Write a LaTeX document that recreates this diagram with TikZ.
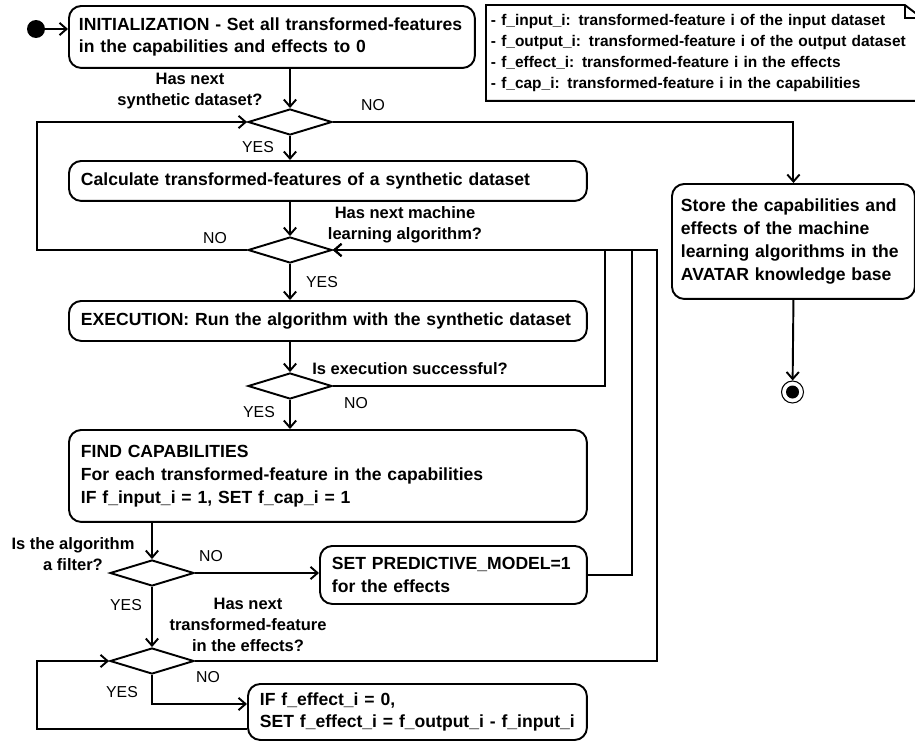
\documentclass[tikz,border=0pt]{standalone}
\usepackage{fontspec}
\setmainfont{Liberation Sans}
\usetikzlibrary{shapes.geometric,arrows.meta}
\begin{document}
\begin{tikzpicture}[>={Straight Barb[length=4pt,width=7pt]}, x=0.02cm, y=-0.02cm, line width=1.1pt,
    box/.style={draw, rounded corners=7pt, anchor=north west, align=left, inner xsep=0.24cm, inner ysep=0pt, font=\fontsize{10}{13}\selectfont\bfseries},
    decision/.style={draw, diamond, minimum width=1.68cm, minimum height=0.52cm, inner sep=0pt},
    lbl/.style={align=center, inner sep=0pt, font=\fontsize{9.4}{12}\selectfont\bfseries},
    yn/.style={inner sep=0pt, font=\fontsize{9}{11}\selectfont}]
    \useasboundingbox (0,0) rectangle (915,744);
    \coordinate (L) at (37,0);
    \coordinate (R1) at (605,0);
    \coordinate (R2) at (632,0);
    \coordinate (R3) at (657,0);
    \node [draw, circle, fill, minimum size=0.32cm, inner sep=0pt] (start) at (36,29) {};
    \node [box, inner xsep=0.2cm, minimum width=8.12cm, minimum height=1.24cm, text width=7.72cm] (init) at (68,5) {INITIALIZATION - Set all transformed-features\\in the capabilities and effects to 0};
    \node [box, minimum width=10.36cm, minimum height=0.8cm, text width=9.88cm] (calc) at (68,160) {Calculate transformed-features of a synthetic dataset};
    \node [box, minimum width=10.36cm, minimum height=0.8cm, text width=9.88cm] (exec) at (68,300) {EXECUTION: Run the algorithm with the synthetic dataset};
    \node [box, minimum width=10.36cm, minimum height=1.84cm, text width=9.88cm] (find) at (68,429) {FIND CAPABILITIES\\For each transformed-feature in the capabilities\\IF f\_input\_i = 1, SET f\_cap\_i = 1};
    \node [box, minimum width=5.34cm, minimum height=1.16cm, text width=4.86cm] (pred) at (319,545) {SET PREDICTIVE\_MODEL=1\\for the effects};
    \node [box, minimum width=6.78cm, minimum height=1.12cm, text width=6.30cm] (ifbox) at (247,683) {IF f\_effect\_i = 0,\\SET f\_effect\_i = f\_output\_i - f\_input\_i};
    \node [box, inner xsep=0.18cm, minimum width=4.86cm, minimum height=2.3cm, text width=4.50cm] (store) at (671,183) {Store the capabilities and\\effects of the machine\\learning algorithms in the\\AVATAR knowledge base};
    \node [draw, circle, minimum size=0.44cm, inner sep=0pt, line width=0.6pt] (end) at (792.5,392) {};
    \fill (end) circle (0.13cm);
    \node [decision] (d1) at (290,122) {};
    \node [decision] (d2) at (290,250) {};
    \node [decision] (d3) at (290,386) {};
    \node [decision] (d4) at (152,573) {};
    \node [decision] (d5) at (152,661) {};
    \node [anchor=north west, align=left, inner xsep=0.08cm, inner ysep=0pt, text width=8.52cm, minimum height=1.88cm, font=\fontsize{8.8}{11.9}\selectfont\bfseries] (note) at (486,5) {- f\_input\_i: transformed-feature i of the input dataset\\- f\_output\_i: transformed-feature i of the output dataset\\- f\_effect\_i: transformed-feature i in the effects\\- f\_cap\_i: transformed-feature i in the capabilities};
    \draw (note.south west) -- (note.north west) -- ([xshift=-0.34cm]note.north east) -- ([yshift=-0.26cm]note.north east) -- (note.south east) -- cycle;
    \draw ([xshift=-0.34cm]note.north east) |- ([yshift=-0.26cm]note.north east);
    \draw [->] (start) -- (start -| init.west);
    \draw [->] (d1 |- init.south) -- (d1.north);
    \draw [->] (d1.south) -- (d1.south |- calc.north);
    \draw [->] (d1.east) -| (store.north);
    \draw [->] (d2 |- calc.south) -- (d2.north);
    \draw [->] (d2.west) -- (d2.west -| L) |- (d1.west);
    \draw [->] (d2.south) -- (d2.south |- exec.north);
    \draw [->] (d3 |- exec.south) -- (d3.north);
    \draw [->] (d3.south) -- (d3.south |- find.north);
    \draw [->] (d3.east) -| (d2.east -| R1) -- (d2.east);
    \draw [->] (pred.east) -| (d2.east -| R2) -- (d2.east);
    \draw [->] (d5.east) -| (d2.east -| R3) -- (d2.east);
    \draw [->] (d4 |- find.south) -- (d4.north);
    \draw [->] (d4.east) -- (d4.east -| pred.west);
    \draw [->] (d4.south) -- (d5.north);
    \draw [->] (d5.south) |- ([yshift=0.16cm]ifbox.west);
    \draw [->] ([yshift=-0.34cm]ifbox.west) -| (d5.west -| L) -- (d5.west);
    \draw [->] (store.south) -- (end);
    \node [lbl] (q1) at (190,91) {Has next\\synthetic dataset?};
    \node [yn] (no1) at (373,105) {NO};
    \node [yn] (yes1) at (258,147) {YES};
    \node [lbl] (q2) at (405,225) {Has next machine\\learning algorithm?};
    \node [yn] (no2) at (215,238) {NO};
    \node [yn] (yes2) at (322,282) {YES};
    \node [lbl] (q3) at (410,369) {Is execution successful?};
    \node [yn] (no3) at (356,403) {NO};
    \node [yn] (yes3) at (259,412) {YES};
    \node [lbl] (q4) at (73,554) {Is the algorithm\\a filter?};
    \node [yn] (no4) at (211,556) {NO};
    \node [yn] (yes4) at (126,605) {YES};
    \node [lbl] (q5) at (248,625) {Has next\\transformed-feature\\in the effects?};
    \node [yn] (no5) at (208,677) {NO};
    \node [yn] (yes5) at (122,692) {YES};
\end{tikzpicture}
\end{document}
